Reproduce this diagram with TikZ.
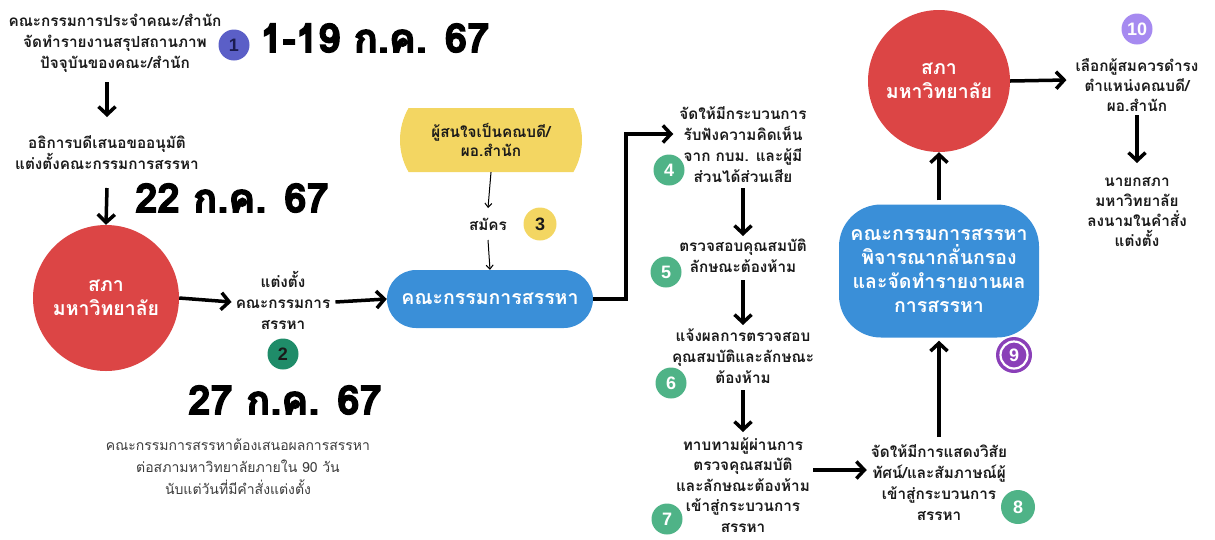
\documentclass[tikz,border=0pt]{standalone}
\usepackage{fontspec}
\usetikzlibrary{arrows.meta,shapes.misc}
\newfontfamily\thaifont[Script=Thai]{Loma}
\newfontfamily\datefont[Script=Thai,FakeBold=3.5]{Loma}
\newfontfamily\numfont{Liberation Sans}
\definecolor{cred}{HTML}{DC4545}
\definecolor{cblue}{HTML}{3A8FD8}
\definecolor{cyellow}{HTML}{F3D662}
\definecolor{cgreen}{HTML}{4FB387}
\definecolor{cdkgreen}{HTML}{1F8C69}
\definecolor{cpurpleA}{HTML}{5B5FC7}
\definecolor{cpurpleB}{HTML}{8A3FB8}
\definecolor{clav}{HTML}{A68AF0}
\definecolor{ctext}{HTML}{1A1A1A}
\definecolor{cnavy}{HTML}{1B1B50}
\tikzset{
  txt/.style={font=\thaifont\bfseries\fontsize{15.3}{21}\selectfont, align=center, text=ctext, inner sep=0pt},
  reg/.style={font=\thaifont\fontsize{14}{22}\selectfont, align=center, text=ctext!85, inner sep=0pt},
  bigtxt/.style={font=\thaifont\bfseries\fontsize{19.5}{24}\selectfont, align=center, text=white, inner sep=0pt},
  datetxt/.style={font=\datefont\bfseries\fontsize{40}{40}\selectfont, inner sep=0pt, anchor=west, text=black},
  badge/.style={circle, minimum size=31pt, inner sep=0pt, font=\numfont\bfseries\fontsize{18}{18}\selectfont},
  arr/.style={line width=3.5pt, -{Straight Barb[length=8pt,width=17pt]}},
  thinarr/.style={line width=1pt, -{Straight Barb[length=4pt,width=7pt]}},
}
\begin{document}
\begin{tikzpicture}[x=1pt,y=-1pt]
\useasboundingbox (0,0) rectangle (1215,539);
% step 1
\node[txt] (t1) at (115,43) {คณะกรรมการประจำคณะ/สำนัก\\จัดทำรายงานสรุปสถานภาพ\\ปัจจุบันของคณะ/สำนัก};
\node[badge, fill=cpurpleA, text=cnavy] (b1) at (234,45) {1};
\node[datetxt] (d1) at (260,38) {1-19 ก.ค. 67};
\node[txt] (t2) at (107,153) {อธิการบดีเสนอขออนุมัติ\\แต่งตั้งคณะกรรมการสรรหา};
\node[datetxt] (d2) at (135,198) {22 ก.ค. 67};
\node[circle, fill=cred, minimum size=146pt, inner sep=0pt] (c1) at (106,298) {};
\node[bigtxt] (c1t) at (c1) {สภา\\มหาวิทยาลัย};
\node[txt] (t3) at (283,300) {แต่งตั้ง\\คณะกรรมการ\\สรรหา};
\node[badge, fill=cdkgreen, text=ctext] (b2) at (283,354) {2};
\node[datetxt] (d3) at (188,400) {27 ก.ค. 67};
\node[reg] (t4) at (238,467) {คณะกรรมการสรรหาต้องเสนอผลการสรรหา\\ต่อสภามหาวิทยาลัยภายใน 90 วัน\\นับแต่วันที่มีคำสั่งแต่งตั้ง};
% applicants
\node[rounded rectangle, rounded rectangle arc length=60, fill=cyellow, minimum width=182pt, minimum height=64pt, inner sep=0pt] (y1) at (491,140) {};
\node[txt, font=\thaifont\bfseries\fontsize{15.3}{19}\selectfont] (y1t) at (y1) {ผู้สนใจเป็นคณบดี/\\ผอ.สำนัก};
\node[txt] (s3) at (488,224) {สมัคร};
\node[badge, fill=cyellow, text=ctext, minimum size=33pt] (b3) at (540,224) {3};
\node[rounded rectangle, fill=cblue, minimum width=206pt, minimum height=58pt, inner sep=0pt] (p1) at (490,299) {};
\node[bigtxt] (p1t) at (p1) {คณะกรรมการสรรหา};
% column
\node[txt] (k4) at (743,145) {จัดให้มีกระบวนการ\\รับฟังความคิดเห็น\\จาก กบม. และผู้มี\\ส่วนได้ส่วนเสีย};
\node[badge, fill=cgreen, text=white] (b4) at (669,170) {4};
\node[txt] (k5) at (743,256) {ตรวจสอบคุณสมบัติ\\ลักษณะต้องห้าม};
\node[badge, fill=cgreen, text=white] (b5) at (666,272) {5};
\node[txt] (k6) at (743,356) {แจ้งผลการตรวจสอบ\\คุณสมบัติและลักษณะ\\ต้องห้าม};
\node[badge, fill=cgreen, text=white] (b6) at (671,383) {6};
\node[txt, font=\thaifont\bfseries\fontsize{15.3}{20.5}\selectfont] (k7) at (743,485) {ทาบทามผู้ผ่านการ\\ตรวจคุณสมบัติ\\และลักษณะต้องห้าม\\เข้าสู่กระบวนการ\\สรรหา};
\node[badge, fill=cgreen, text=white] (b7) at (667,519) {7};
\node[txt] (k8) at (939,483) {จัดให้มีการแสดงวิสัย\\ทัศน์/และสัมภาษณ์ผู้\\เข้าสู่กระบวนการ\\สรรหา};
\node[badge, fill=cgreen, text=white, minimum size=34pt] (b8) at (1018,507) {8};
\node[rectangle, rounded corners=42pt, fill=cblue, minimum width=200pt, minimum height=133pt, inner sep=0pt] (q9) at (939,271) {};
\node[bigtxt] (q9t) at (q9) {คณะกรรมการสรรหา\\พิจารณากลั่นกรอง\\และจัดทำรายงานผล\\การสรรหา};
\node[circle, fill=cpurpleB, minimum size=36pt, inner sep=0pt] (b9) at (1014,355) {};
\node[circle, draw=white, line width=2.2pt, minimum size=27pt, inner sep=0pt, text=white, font=\numfont\bfseries\fontsize{18}{18}\selectfont] (b9n) at (b9) {9};
\node[circle, fill=cred, minimum size=142pt, inner sep=0pt] (c2) at (939,81) {};
\node[bigtxt] (c2t) at (c2) {สภา\\มหาวิทยาลัย};
\node[badge, fill=clav, text=white] (b10) at (1137,29) {10};
\node[txt, font=\thaifont\bfseries\fontsize{15.3}{20}\selectfont] (k10) at (1137,85) {เลือกผู้สมควรดำรง\\ตำแหน่งคณบดี/\\ผอ.สำนัก};
\node[txt, font=\thaifont\bfseries\fontsize{15.3}{20}\selectfont] (k11) at (1137,212) {นายกสภา\\มหาวิทยาลัย\\ลงนามในคำสั่ง\\แต่งตั้ง};
% connectors
\draw[arr] ([xshift=-8pt,yshift=-39pt]t1.center) -- ([yshift=36pt]t2.center);
\draw[arr] ([yshift=-35pt]t2.center) -- (c1.north);
\draw[arr] (c1.east) -- ([xshift=-4pt,yshift=-2pt]t3.west);
\draw[arr] ([xshift=5pt,yshift=-2pt]t3.east) -- (p1.west);
\draw[thinarr] (y1.south) -- ([yshift=16pt]s3.center);
\draw[thinarr] ([yshift=-16pt]s3.center) -- (p1.north);
\draw[arr] (p1.east) -- ++(33,0) |- ([xshift=-6pt,yshift=11pt]k4.west);
\draw[arr] ([yshift=-43pt]k4.center) -- ([yshift=20pt]k5.center);
\draw[arr] ([yshift=-24pt]k5.center) -- ([yshift=31pt]k6.center);
\draw[arr] ([yshift=-34pt]k6.center) -- ([yshift=53pt]k7.center);
\draw[arr] ([xshift=3pt,yshift=15pt]k7.east) -- ([xshift=-4pt,yshift=13pt]k8.west);
\draw[arr] ([yshift=46pt]k8.center) -- ([yshift=-3pt]q9.south);
\draw[arr] ([yshift=4pt]q9.north) -- (c2.south);
\draw[arr] (c2.east) -- ([xshift=-9pt,yshift=5pt]k10.west);
\draw[arr] ([yshift=-30pt]k10.center) -- ([yshift=49pt]k11.center);
\end{tikzpicture}
\end{document}
